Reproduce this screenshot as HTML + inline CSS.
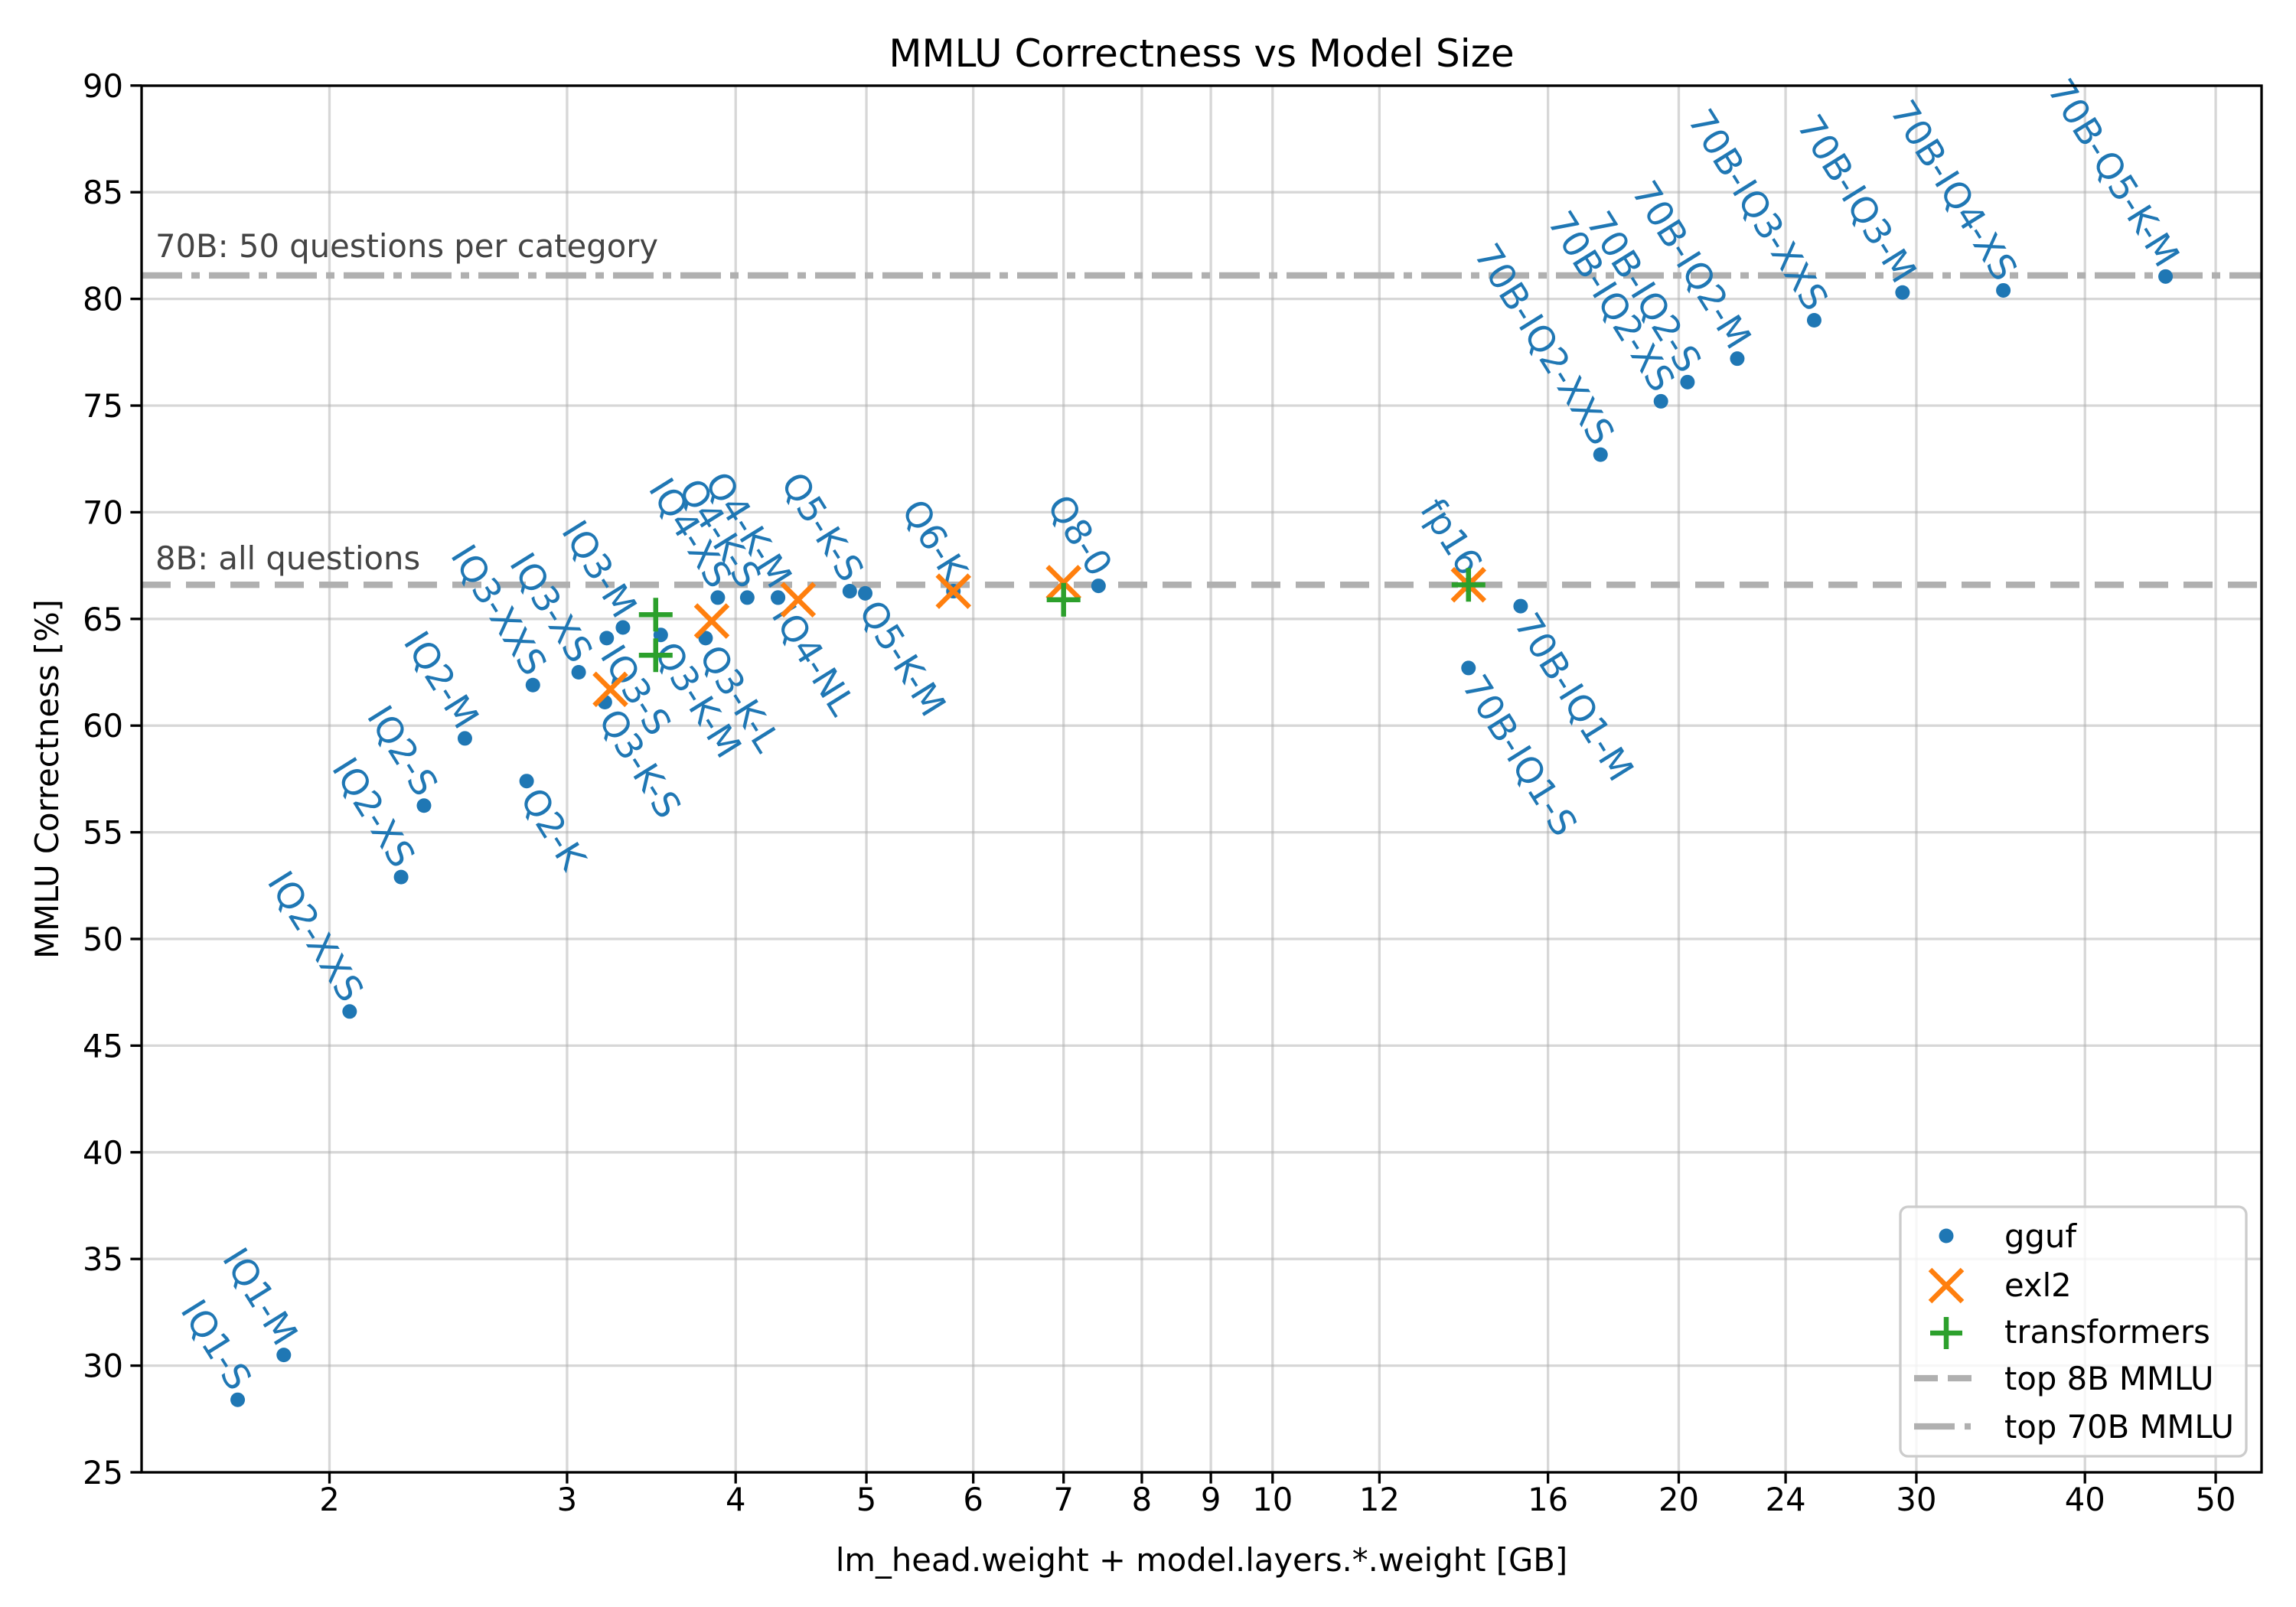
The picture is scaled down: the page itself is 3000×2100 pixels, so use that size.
<!DOCTYPE html>
<html><head><meta charset="utf-8"><style>
html,body{margin:0;padding:0;background:#fff;}
svg{display:block;font-family:"DejaVu Sans","Liberation Sans",sans-serif;}
</style></head><body>
<svg id="chart" xmlns="http://www.w3.org/2000/svg" width="3000" height="2100" viewBox="0 0 3000 2100">
<rect width="3000" height="2100" fill="#fff"/>
<g id="grid"></g>
<g id="refs"></g>
<g id="marks"></g>
<g id="axes"></g>
<text x="1570" y="87" font-size="50" text-anchor="middle">MMLU Correctness vs Model Size</text>
<text x="1570" y="2053" font-size="41.7" text-anchor="middle">lm_head.weight + model.layers.*.weight [GB]</text>
<text transform="translate(76,1018) rotate(-90)" font-size="41.7" text-anchor="middle">MMLU Correctness [%]</text>
<g id="legend">
<rect x="2483" y="1577" width="452" height="326" rx="10" fill="#fff" fill-opacity="0.8" stroke="#ccc" stroke-width="3.3"/>
<circle cx="2543" cy="1615" r="9.5" fill="#1f77b4"/>
<text x="2619" y="1630" font-size="41.7">gguf</text>
<path d="M2522,1659 L2564,1701 M2564,1659 L2522,1701" stroke="#ff7f0e" stroke-width="6.5"/>
<text x="2619" y="1694" font-size="41.7">exl2</text>
<path d="M2522,1742 L2564,1742 M2543,1721 L2543,1763" stroke="#2ca02c" stroke-width="6.5"/>
<text x="2619" y="1755" font-size="41.7">transformers</text>
<line x1="2501" y1="1801" x2="2576" y2="1801" stroke="#b0b0b0" stroke-width="8.3" stroke-dasharray="31,13"/>
<text x="2619" y="1816" font-size="41.7">top 8B MMLU</text>
<line x1="2501" y1="1864" x2="2576" y2="1864" stroke="#b0b0b0" stroke-width="8.3" stroke-dasharray="53,13,8,13"/>
<text x="2619" y="1879" font-size="41.7">top 70B MMLU</text>
</g>
</svg>
<script>
const ggufNames = ["IQ1-S","IQ1-M","IQ2-XXS","IQ2-XS","IQ2-S","IQ2-M","Q2-K","IQ3-XXS","IQ3-XS","Q3-K-S","IQ3-S","IQ3-M","Q3-K-M","Q3-K-L","IQ4-XS","Q4-K-S","Q4-K-M","IQ4-NL","Q5-K-S","Q5-K-M","Q6-K","Q8-0","fp16","70B-IQ1-S","70B-IQ1-M","70B-IQ2-XXS","70B-IQ2-XS","70B-IQ2-S","70B-IQ2-M","70B-IQ3-XXS","70B-IQ3-M","70B-IQ4-XS","70B-Q5-K-M"];
const ggufSize = [1.71,1.85,2.07,2.26,2.35,2.52,2.80,2.83,3.06,3.20,3.21,3.30,3.52,3.80,3.88,4.08,4.30,4.30,4.86,4.99,5.80,7.43,13.97,13.97,15.27,17.5,19.4,20.3,22.1,25.2,29.3,34.8,45.9];
const ggufScore = [28.4,30.5,46.6,52.9,56.25,59.4,57.4,61.9,62.5,61.1,64.1,64.6,64.25,64.1,66.0,66.0,66.0,66.0,66.3,66.2,66.3,66.55,66.6,62.7,65.6,72.7,75.2,76.1,77.2,79.0,80.3,80.4,81.05];
const ggufLabelBelow = [0,0,0,0,0,0,1,0,0,1,1,0,1,1,0,0,0,1,0,1,0,0,0,1,1,0,0,0,0,0,0,0,0];
const exl2Size = [3.23,3.84,4.45,5.80,7.0,13.97];
const exl2Score = [61.7,64.9,65.9,66.3,66.7,66.6];
const tfSize = [3.49,3.49,7.0,13.97];
const tfScore = [65.2,63.3,65.9,66.6];
const xTicks = [2,3,4,5,6,7,8,9,10,12,16,20,24,30,40,50];
const yTicks = [25,30,35,40,45,50,55,60,65,70,75,80,85,90];
const top8B = 66.6;
const top70B = 81.1;

const L=185,R=2955,T=112,B=1924;
const NS="http://www.w3.org/2000/svg";
function X(v){return 430.5+(Math.log10(v)-Math.log10(2))*1763;}
function Y(v){return B-(v-25)*27.88;}
function mk(tag,attrs,parent){const e=document.createElementNS(NS,tag);for(const k in attrs)e.setAttribute(k,attrs[k]);parent.appendChild(e);return e;}
const grid=document.getElementById('grid'),axes=document.getElementById('axes'),marks=document.getElementById('marks'),refs=document.getElementById('refs');
xTicks.forEach(t=>{
  const g=mk('line',{x1:X(t),x2:X(t),y1:T,y2:B,stroke:'#b0b0b0','stroke-opacity':0.5,'stroke-width':3.3},grid);
  
  
  const k=mk('line',{x1:X(t),x2:X(t),y1:B,y2:B+14.6,stroke:'#000','stroke-width':3.3},axes);
  
  
  const tx=mk('text',{x:X(t),y:B+50,'font-size':41.7,'text-anchor':'middle'},axes);
  tx.textContent=t;
  
  
});
yTicks.forEach(t=>{
  const g=mk('line',{x1:L,x2:R,y1:Y(t),y2:Y(t),stroke:'#b0b0b0','stroke-opacity':0.5,'stroke-width':3.3},grid);
  
  
  const k=mk('line',{x1:L-14.6,x2:L,y1:Y(t),y2:Y(t),stroke:'#000','stroke-width':3.3},axes);
  
  
  const tx=mk('text',{x:L-24,y:Y(t)+15,'font-size':41.7,'text-anchor':'end'},axes);
  tx.textContent=t;
  
  
});
const frame=mk('rect',{x:L,y:T,width:R-L,height:B-T,fill:'none',stroke:'#000','stroke-width':3.3},axes);



const l8=mk('line',{x1:L,x2:R,y1:Y(top8B),y2:Y(top8B),stroke:'#b0b0b0','stroke-width':8.3,'stroke-dasharray':'38,20'},refs);


const l70=mk('line',{x1:L,x2:R,y1:Y(top70B),y2:Y(top70B),stroke:'#b0b0b0','stroke-width':8.3,'stroke-dasharray':'53,12,11,12'},refs);


const t8=mk('text',{x:203,y:Y(top8B)-20,'font-size':41.7,fill:'#444'},refs);
t8.textContent='8B: all questions';


const t70=mk('text',{x:203,y:Y(top70B)-24,'font-size':41.7,fill:'#444'},refs);
t70.textContent='70B: 50 questions per category';



ggufSize.forEach((s,i)=>{
  const c=mk('circle',{cx:X(s),cy:Y(ggufScore[i]),r:9.5,fill:'#1f77b4'},marks);
  
  
  const below=ggufLabelBelow[i];
  const t=mk('text',{transform:`translate(${X(s)},${Y(ggufScore[i])}) rotate(58)`,x:below?14:-12,y:below?20:2,'font-size':47,fill:'#1f77b4','text-anchor':below?'start':'end'},marks);
  t.textContent=ggufNames[i];
  
  
});
exl2Size.forEach((s,i)=>{
  const x=X(s),y=Y(exl2Score[i]);
  const p=mk('path',{d:`M${x-21},${y-21} L${x+21},${y+21} M${x+21},${y-21} L${x-21},${y+21}`,stroke:'#ff7f0e','stroke-width':6.5},marks);
  
  
});
tfSize.forEach((s,i)=>{
  const x=X(s),y=Y(tfScore[i]);
  const p=mk('path',{d:`M${x-22},${y} L${x+22},${y} M${x},${y-22} L${x},${y+22}`,stroke:'#2ca02c','stroke-width':6.5},marks);
  
  
});
</script>
</body></html>
